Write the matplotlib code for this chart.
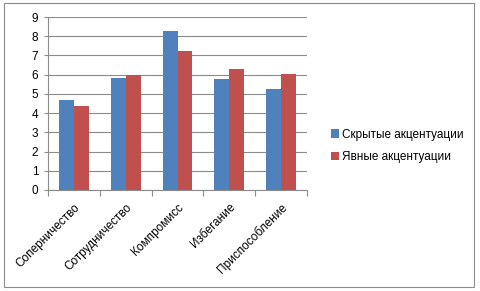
import matplotlib
matplotlib.use("Agg")
import matplotlib.pyplot as plt
from matplotlib.patches import Rectangle
import numpy as np

categories = ["Соперничество", "Сотрудничество", "Компромисс", "Избегание", "Приспособление"]
hidden = [4.7, 5.83, 8.27, 5.78, 5.24]
explicit = [4.35, 6.0, 7.23, 6.3, 6.04]
series_names = ["Скрытые акцентуации", "Явные акцентуации"]
colors = ["#4F81BD", "#C0504D"]

plt.rcParams['font.family'] = ['Liberation Sans', 'DejaVu Sans']

W, H = 480, 291
fig = plt.figure(figsize=(W/100, H/100), dpi=100)
fig.patches.append(Rectangle((4/W, 1-287/H), 470/W, 284/H, transform=fig.transFigure,
                             fill=False, edgecolor="#8C8C8C", linewidth=0.8))

ax = fig.add_axes([48/W, 1-190/H, (307-48)/W, (190-17)/H])
x = np.arange(len(categories))
bw = 0.286
ax.bar(x - bw/2, hidden, width=bw, color=colors[0], label=series_names[0], zorder=3)
ax.bar(x + bw/2, explicit, width=bw, color=colors[1], label=series_names[1], zorder=3)

ax.set_xlim(-0.5, len(categories) - 0.5)
ax.set_ylim(0, 9)
ax.set_yticks(range(0, 10))
ax.yaxis.grid(True, color="#8C8C8C", linewidth=0.8, zorder=0)
for s in ["top", "right"]:
    ax.spines[s].set_visible(False)
ax.spines["left"].set_color("#8C8C8C")
ax.spines["bottom"].set_color("#8C8C8C")
ax.tick_params(axis="y", length=3, color="#8C8C8C", labelsize=8.5, pad=4)
ax.set_xticks(np.arange(-0.5, len(categories), 1.0), minor=False)
ax.set_xticklabels([])
ax.tick_params(axis="x", which="major", length=4, color="#8C8C8C", direction="out")
ax.set_xticks(x, minor=True)
ax.set_xticklabels(categories, minor=True, rotation=45, ha="right", rotation_mode="anchor", fontsize=8.5)
ax.tick_params(axis="x", which="minor", length=0, pad=8)

ax.legend(loc="center left", bbox_to_anchor=(320/W, 1-146/H), bbox_transform=fig.transFigure,
          frameon=False, fontsize=8.5, handlelength=0.7, handleheight=0.7, handletextpad=0.3,
          labelspacing=0.9)

fig.savefig("out.png", dpi=100)
